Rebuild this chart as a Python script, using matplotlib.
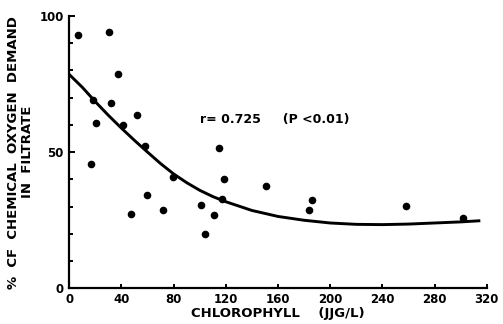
import numpy as np
import matplotlib.pyplot as plt
from matplotlib.ticker import MultipleLocator

# chlorophyll (ug/L) vs % of COD in filtrate
chlorophyll = [6.9, 30.4, 37.1, 18.4, 31.7, 20.2, 40.9, 51.7, 58.1, 16.9,
               79.8, 59.3, 47.1, 71.9, 101.3, 104.1, 111.0, 114.8, 118.9,
               117.1, 150.6, 184.1, 186.2, 258.3, 301.5]
cod_pct = [93.1, 94.1, 78.8, 69.3, 67.9, 60.7, 59.9, 63.8, 52.4, 45.8,
           40.9, 34.1, 27.4, 28.8, 30.5, 20.0, 26.9, 51.4, 40.0,
           32.8, 37.5, 28.9, 32.3, 30.1, 25.7]

# fitted curve as drawn in the figure
curve_x = [0, 10, 20, 30, 40, 50, 60, 70, 80, 90, 100, 110, 120, 140, 160,
           180, 200, 220, 240, 260, 280, 300, 314]
curve_y = [78.5, 73.8, 68.5, 63.5, 58.8, 54.3, 50.0, 45.8, 42.0, 38.8, 36.0,
           33.7, 31.8, 28.6, 26.4, 25.0, 24.0, 23.5, 23.4, 23.6, 24.0, 24.4, 24.8]

x_ticks = [0, 40, 80, 120, 160, 200, 240, 280, 320]
y_ticks = [0, 50, 100]

plt.rcParams['font.family'] = 'DejaVu Sans'
plt.rcParams['font.weight'] = 'bold'

fig = plt.figure(figsize=(5.03, 3.24), dpi=100)
ax = fig.add_axes([0.1378, 0.110, 0.8298, 0.8407])

ax.scatter(chlorophyll, cod_pct, s=20, color='black', zorder=3)
ax.plot(curve_x, curve_y, color='black', linewidth=2.1)

ax.set_xlim(0, 320)
ax.set_ylim(0, 100)

# axes styling
for side in ['top', 'right']:
    ax.spines[side].set_visible(False)
for side in ['left', 'bottom']:
    ax.spines[side].set_linewidth(1.6)

ax.set_xticks(x_ticks)
ax.set_yticks(y_ticks)
ax.yaxis.set_minor_locator(MultipleLocator(10))
ax.tick_params(axis='both', which='both', direction='in', width=1.4, color='black')
ax.tick_params(axis='x', length=3, pad=3, labelsize=8.5)
ax.tick_params(axis='y', which='major', length=4, pad=4, labelsize=8.5)
ax.tick_params(axis='y', which='minor', length=3)

ax.set_xlabel('CHLOROPHYLL    (JJG/L)', fontsize=9.5, fontweight='bold', labelpad=1)
ax.set_ylabel('%  CF  CHEMICAL  OXYGEN  DEMAND\nIN  FILTRATE', fontsize=9.5,
              fontweight='bold', linespacing=1.1, labelpad=4)

ax.text(100, 62, 'r= 0.725     (P <0.01)', fontsize=9, fontweight='bold', va='center')

fig.savefig('out.png', dpi=100)
